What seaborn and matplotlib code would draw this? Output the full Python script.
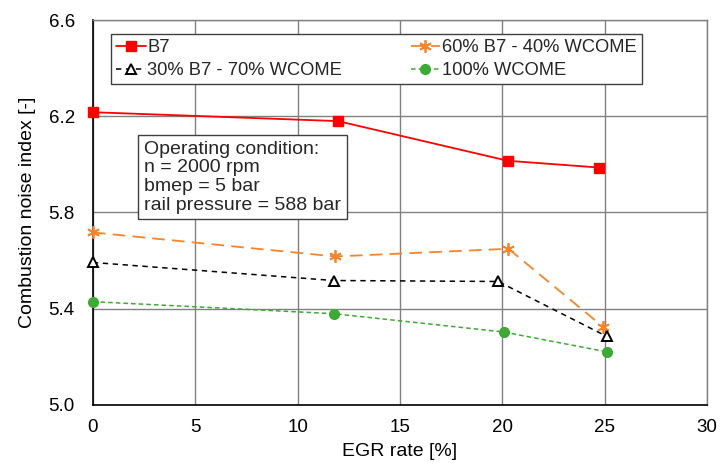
import matplotlib
matplotlib.use("Agg")
import matplotlib.pyplot as plt
import seaborn as sns
import pandas as pd

series_names = ["B7", "60% B7 - 40% WCOME", "30% B7 - 70% WCOME", "100% WCOME"]
egr_b7 = [0.0, 11.97, 20.27, 24.7]
cni_b7 = [6.217, 6.18, 6.015, 5.987]
egr_60 = [0.0, 11.82, 20.3, 24.93]
cni_60 = [5.717, 5.617, 5.649, 5.324]
egr_30 = [0.0, 11.77, 19.8, 25.09]
cni_30 = [5.592, 5.517, 5.513, 5.285]
egr_100 = [0.0, 11.77, 20.06, 25.12]
cni_100 = [5.429, 5.379, 5.303, 5.22]

sns.set_theme(style="white")
plt.rcParams['font.family'] = ['Liberation Sans', 'DejaVu Sans']

fig = plt.figure(figsize=(7.2, 4.68), dpi=100)
ax = fig.add_axes([0.129, 0.135, 0.853, 0.822])

styles = [
    dict(color="#FF0000", linestyle="-", marker="s", markersize=7, mfc="#FF0000", mec="#FF0000", lw=1.3),
    dict(color="#F7832A", linestyle=(0, (7, 4)), marker=(6, 2, 0), markersize=9, mfc="#F7832A", mec="#F7832A", mew=1.3, lw=1.3),
    dict(color="black", linestyle=(0, (3.5, 3)), marker="^", markersize=7, mfc="white", mec="black", mew=1.4, lw=1.1),
    dict(color="#3DAA35", linestyle=(0, (3, 2)), marker="o", markersize=7, mfc="#3DAA35", mec="#3DAA35", lw=1.1),
]
data = [(egr_b7, cni_b7), (egr_60, cni_60), (egr_30, cni_30), (egr_100, cni_100)]

for name, (xs, ys), st in zip(series_names, data, styles):
    df = pd.DataFrame({"x": xs, "y": ys})
    sns.lineplot(data=df, x="x", y="y", ax=ax, label=name,
                 color=st["color"], linestyle=st["linestyle"], marker=st["marker"],
                 markersize=st["markersize"], markerfacecolor=st["mfc"],
                 markeredgecolor=st["mec"], markeredgewidth=st.get("mew", 1.0),
                 linewidth=st["lw"], zorder=3, clip_on=False)

ax.set_xlim(0, 30)
ax.set_ylim(5.0, 6.6)
ax.set_xticks([0, 5, 10, 15, 20, 25, 30])
ax.set_yticks([5.0, 5.4, 5.8, 6.2, 6.6])
ax.set_yticklabels(["5.0", "5.4", "5.8", "6.2", "6.6"])
ax.grid(True, color="#808080", linewidth=1.0)
ax.set_axisbelow(True)
for s in ["top", "right"]:
    ax.spines[s].set_color("#808080")
    ax.spines[s].set_linewidth(1.0)
for s in ["left", "bottom"]:
    ax.spines[s].set_color("black")
    ax.spines[s].set_linewidth(1.2)
ax.tick_params(axis="y", labelsize=13.5, length=0, pad=13)
ax.tick_params(axis="x", labelsize=13.5, length=0, pad=10)
for lab in ax.get_xticklabels() + ax.get_yticklabels():
    lab.set_color("black")
ax.set_xlabel("EGR rate [%]", fontsize=14, labelpad=5, color="black")
ax.set_ylabel("Combustion noise index [-]", fontsize=14, labelpad=9, color="black")

handles, labels = ax.get_legend_handles_labels()
order = [0, 2, 1, 3]
leg = ax.legend([handles[i] for i in order], [labels[i] for i in order],
                loc="upper left", bbox_to_anchor=(0.029, 0.964, 0.865, 0.0), mode="expand",
                ncol=2, fontsize=13.2, frameon=True, fancybox=False, edgecolor="#404040",
                framealpha=1, handlelength=1.6, handletextpad=0.1, borderpad=0.3,
                labelspacing=0.3, columnspacing=1.0, borderaxespad=0)
leg.get_frame().set_linewidth(1.0)

ax.text(0.083, 0.686,
        "Operating condition:\nn = 2000 rpm\nbmep = 5 bar\nrail pressure = 588 bar",
        transform=ax.transAxes, fontsize=14, va="top", ha="left", linespacing=1.12,
        bbox=dict(boxstyle="square,pad=0.3", fc="white", ec="#404040", lw=1.0), zorder=5)

fig.savefig("out.png", dpi=100)
